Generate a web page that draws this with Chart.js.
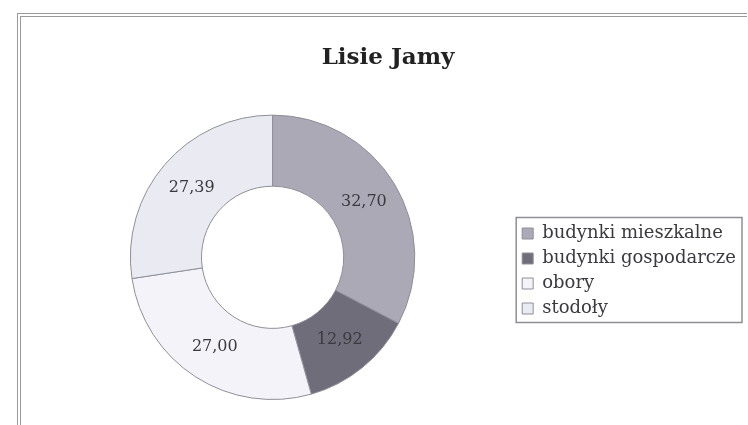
<!DOCTYPE html>
<html>
<head>
<meta charset="utf-8">
<script src="https://cdn.jsdelivr.net/npm/chart.js@4/dist/chart.umd.min.js"></script>
<style>
  body { margin: 0; background: #fff; }
  #wrap { position: relative; width: 748px; height: 425px; }
  #frame {
    position: absolute; left: 17px; top: 13px; width: 726px; height: 408px;
    border: 4px double #9a9a9e; border-right: none; border-bottom: none;
  }
  canvas { position: absolute; left: 0; top: 0; }
</style>
</head>
<body>
<div id="wrap">
  <div id="frame"></div>
  <canvas id="chart" width="748" height="425"></canvas>
</div>
<script>
const title = 'Lisie Jamy';
const categories = ['budynki mieszkalne', 'budynki gospodarcze', 'obory', 'stodoły'];
const values = [32.70, 12.92, 27.00, 27.39];
const colors = ['#aaa9b5', '#6f6d7a', '#f3f3f9', '#eaeaf2'];

const serif = '"DejaVu Serif", "Liberation Serif", serif';

// etykiety z wartościami na wycinkach
const sliceLabels = {
    id: 'sliceLabels',
    afterDatasetsDraw(chart) {
        const ctx = chart.ctx;
        const meta = chart.getDatasetMeta(0);
        ctx.save();
        ctx.font = '16px ' + serif;
        ctx.fillStyle = '#3a3a40';
        ctx.textAlign = 'center';
        ctx.textBaseline = 'middle';
        meta.data.forEach(function(arc, i) {
            const p = arc.tooltipPosition();
            ctx.fillText(values[i].toFixed(2).replace('.', ','), p.x, p.y);
        });
        ctx.restore();
    }
};

// ramka wokół legendy
const legendBorder = {
    id: 'legendBorder',
    afterDraw(chart) {
        const boxes = chart.legend.legendHitBoxes;
        if (!boxes || !boxes.length) return;
        let l = Infinity, t = Infinity, r = -Infinity, b = -Infinity;
        boxes.forEach(function(h) {
            l = Math.min(l, h.left); t = Math.min(t, h.top);
            r = Math.max(r, h.left + h.width); b = Math.max(b, h.top + h.height);
        });
        const ctx = chart.ctx;
        ctx.save();
        ctx.strokeStyle = '#8e8e96';
        ctx.lineWidth = 1.5;
        ctx.strokeRect(l - 6, t - 7, r - l + 12, b - t + 12);
        ctx.restore();
    }
};

new Chart(document.getElementById('chart'), {
    type: 'doughnut',
    data: {
        labels: categories,
        datasets: [{
            data: values,
            backgroundColor: colors,
            borderColor: '#8f8f98',
            borderWidth: 1
        }]
    },
    options: {
        responsive: false,
        animation: false,
        cutout: '50%',
        layout: {
            padding: { left: 30, right: 2, top: 0, bottom: 25 }
        },
        plugins: {
            title: {
                display: true,
                text: title,
                color: '#222',
                font: { family: serif, size: 23, weight: 'bold' },
                padding: { top: 44, bottom: 43 }
            },
            legend: {
                position: 'right',
                // pusty tytuł tylko po to, by zepchnąć pozycje legendy niżej
                title: {
                    display: true,
                    text: ' ',
                    font: { size: 10 },
                    padding: { top: 130, bottom: 0 }
                },
                labels: {
                    color: '#3a3a40',
                    font: { family: serif, size: 18 },
                    boxWidth: 11,
                    boxHeight: 11,
                    padding: 7
                }
            },
            tooltip: { enabled: false }
        }
    },
    plugins: [sliceLabels, legendBorder]
});
</script>
</body>
</html>
